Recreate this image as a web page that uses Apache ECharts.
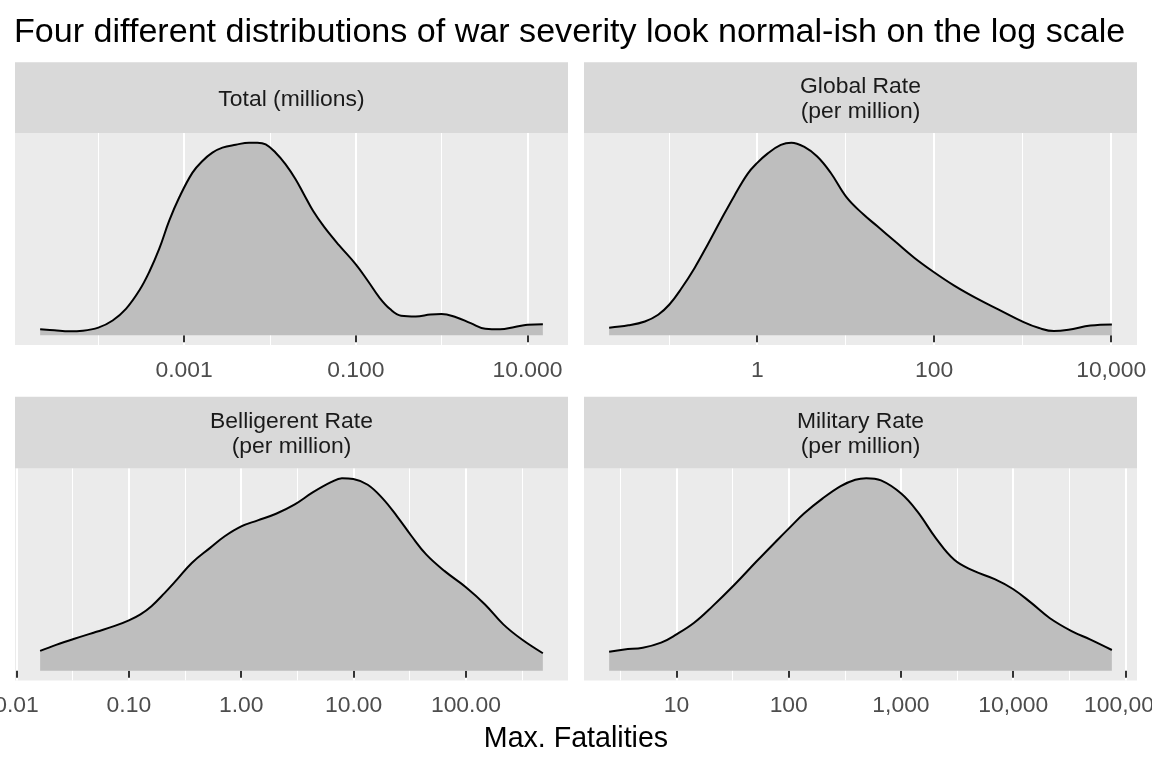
<!DOCTYPE html>
<html>
<head>
<meta charset="utf-8">
<title>War severity densities</title>
<script src="https://cdn.jsdelivr.net/npm/echarts@6/dist/echarts.min.js"></script>
<style>
  html, body { margin: 0; padding: 0; background: #fff; }
  #chart { width: 1152px; height: 768px; }
</style>
</head>
<body>
<div id="chart"></div>
<script>
// x values are log10 of the fatality measure, y is density relative to the panel peak
var totalX = [-4.678, -4.512, -4.337, -4.182, -4.0, -3.833, -3.678, -3.523, -3.407, -3.291, -3.174, -3.058, -2.903, -2.787, -2.671, -2.554, -2.399, -2.244, -2.147, -2.050, -1.934, -1.818, -1.702, -1.604, -1.497, -1.369, -1.199, -0.998, -0.857, -0.729, -0.601, -0.473, -0.302, -0.131, -0.003, 0.168, 0.338, 0.509, 0.680, 0.851, 1.0, 1.179];
var totalY = [0.031, 0.026, 0.021, 0.024, 0.040, 0.077, 0.137, 0.232, 0.328, 0.447, 0.593, 0.713, 0.842, 0.902, 0.945, 0.971, 0.986, 0.997, 0.997, 0.988, 0.945, 0.885, 0.808, 0.729, 0.643, 0.561, 0.468, 0.366, 0.280, 0.198, 0.136, 0.102, 0.098, 0.108, 0.111, 0.094, 0.063, 0.034, 0.031, 0.043, 0.055, 0.057];

var globalX = [-1.674, -1.457, -1.270, -1.120, -0.993, -0.858, -0.708, -0.558, -0.408, -0.258, -0.109, 0, 0.116, 0.266, 0.386, 0.528, 0.678, 0.828, 1.015, 1.202, 1.358, 1.566, 1.774, 1.994, 2.231, 2.480, 2.729, 3.011, 3.186, 3.352, 3.518, 3.767, 4.008];
var globalY = [0.040, 0.052, 0.072, 0.107, 0.160, 0.243, 0.350, 0.473, 0.601, 0.725, 0.838, 0.895, 0.943, 0.988, 1.0, 0.979, 0.928, 0.845, 0.713, 0.627, 0.566, 0.484, 0.403, 0.329, 0.257, 0.192, 0.134, 0.069, 0.038, 0.022, 0.029, 0.051, 0.057];

var bellX = [-1.79, -1.648, -1.485, -1.289, -1.126, -1.0, -0.897, -0.799, -0.685, -0.571, -0.440, -0.277, -0.147, 0.0, 0.147, 0.310, 0.473, 0.636, 0.799, 0.897, 0.998, 1.126, 1.256, 1.387, 1.517, 1.648, 1.811, 2.0, 2.170, 2.333, 2.496, 2.685];
var bellY = [0.103, 0.134, 0.166, 0.202, 0.232, 0.261, 0.292, 0.334, 0.400, 0.472, 0.557, 0.635, 0.695, 0.746, 0.777, 0.811, 0.858, 0.921, 0.974, 0.995, 0.991, 0.961, 0.892, 0.798, 0.695, 0.600, 0.515, 0.432, 0.343, 0.240, 0.163, 0.091];

var milX = [0.400, 0.536, 0.700, 0.863, 1.0, 1.157, 1.320, 1.516, 1.712, 1.908, 2.002, 2.136, 2.300, 2.463, 2.593, 2.691, 2.822, 3.002, 3.149, 3.312, 3.475, 3.639, 3.835, 3.998, 4.161, 4.324, 4.520, 4.684, 4.879];
var milY = [0.099, 0.111, 0.120, 0.146, 0.189, 0.249, 0.334, 0.446, 0.566, 0.683, 0.738, 0.815, 0.892, 0.957, 0.990, 0.998, 0.986, 0.918, 0.823, 0.686, 0.575, 0.520, 0.475, 0.424, 0.352, 0.274, 0.206, 0.163, 0.108];

// axis breaks (log10) and their labels
var totalBreaks = [-3, -1, 1];
var totalLabels = ['0.001', '0.100', '10.000'];
var totalMinor = [-4, -2, 0];
var globalBreaks = [0, 2, 4];
var globalLabels = ['1', '100', '10,000'];
var globalMinor = [-1, 1, 3];
var bellBreaks = [-2, -1, 0, 1, 2];
var bellLabels = ['0.01', '0.10', '1.00', '10.00', '100.00'];
var bellMinor = [-1.5, -0.5, 0.5, 1.5, 2.5];
var milBreaks = [1, 2, 3, 4, 5];
var milLabels = ['10', '100', '1,000', '10,000', '100,000'];
var milMinor = [0.5, 1.5, 2.5, 3.5, 4.5];

var panelTitles = ['Total (millions)', 'Global Rate\n(per million)', 'Belligerent Rate\n(per million)', 'Military Rate\n(per million)'];

var font = '"Liberation Sans", Arial, sans-serif';

var panels = [
  { x: totalX, y: totalY, breaks: totalBreaks, labels: totalLabels, minor: totalMinor },
  { x: globalX, y: globalY, breaks: globalBreaks, labels: globalLabels, minor: globalMinor },
  { x: bellX, y: bellY, breaks: bellBreaks, labels: bellLabels, minor: bellMinor },
  { x: milX, y: milY, breaks: milBreaks, labels: milLabels, minor: milMinor }
];

var boxes = [
  { left: 15, top: 133, width: 553, height: 212, stripTop: 62.3 },
  { left: 584, top: 133, width: 553, height: 212, stripTop: 62.3 },
  { left: 15, top: 468.5, width: 553, height: 212, stripTop: 396.8 },
  { left: 584, top: 468.5, width: 553, height: 212, stripTop: 396.8 }
];

var grids = [], xAxes = [], yAxes = [], series = [], graphics = [];

panels.forEach(function (p, i) {
  var b = boxes[i];
  var lo = Math.min.apply(null, p.x), hi = Math.max.apply(null, p.x);
  var pad = (hi - lo) * 0.05;
  var ymax = Math.max.apply(null, p.y);

  grids.push({
    left: b.left, top: b.top, width: b.width, height: b.height,
    show: true, backgroundColor: '#EBEBEB', borderWidth: 0,
    containLabel: false, outerBoundsMode: 'none'
  });

  // major breaks with labels
  xAxes.push({
    type: 'value', gridIndex: i, min: lo - pad, max: hi + pad,
    axisLine: { show: false },
    axisTick: { show: true, length: 7, customValues: p.breaks, lineStyle: { color: '#333333', width: 2 } },
    axisLabel: {
      show: true, customValues: p.breaks, margin: 14,
      color: '#4D4D4D', fontSize: 22.9, fontFamily: font,
      showMinLabel: true, showMaxLabel: true,
      formatter: function (v) {
        var k = p.breaks.findIndex(function (e) { return Math.abs(e - v) < 1e-6; });
        return k >= 0 ? p.labels[k] : '';
      }
    },
    splitLine: { show: true, lineStyle: { color: '#FFFFFF', width: 2.1 } }
  });
  // minor grid lines
  xAxes.push({
    type: 'value', gridIndex: i, min: lo - pad, max: hi + pad,
    axisLine: { show: false },
    axisTick: { show: false, customValues: p.minor },
    axisLabel: { show: false },
    splitLine: { show: true, lineStyle: { color: '#FFFFFF', width: 1.1 } }
  });

  yAxes.push({
    type: 'value', gridIndex: i, min: -0.05 * ymax, max: 1.05 * ymax,
    show: false, splitLine: { show: false }
  });

  series.push({
    type: 'line', xAxisIndex: i * 2, yAxisIndex: i,
    data: p.x.map(function (x, k) { return [x, p.y[k]]; }),
    smooth: 0.4, symbol: 'none', silent: true,
    lineStyle: { color: '#000000', width: 2 },
    areaStyle: { color: '#BEBEBE', opacity: 1, origin: 'auto' },
    z: 3
  });

  // facet strip
  graphics.push({
    type: 'rect',
    shape: { x: b.left, y: b.stripTop, width: b.width, height: b.top - b.stripTop },
    style: { fill: '#D9D9D9' }, silent: true
  });
  graphics.push({
    type: 'text',
    x: b.left + b.width / 2, y: (b.stripTop + b.top) / 2 + 2,
    style: {
      text: panelTitles[i], align: 'center', verticalAlign: 'middle',
      fill: '#1A1A1A', fontSize: 22.9, fontFamily: font, lineHeight: 25
    },
    silent: true
  });
});

graphics.push({
  type: 'text', x: 576, y: 739,
  style: {
    text: 'Max. Fatalities', align: 'center', verticalAlign: 'middle',
    fill: '#000000', fontSize: 28.6, fontFamily: font
  },
  silent: true
});

var chart = echarts.init(document.getElementById('chart'), null, { renderer: 'canvas' });
chart.setOption({
  backgroundColor: '#FFFFFF',
  animation: false,
  title: {
    text: 'Four different distributions of war severity look normal-ish on the log scale',
    left: 14, top: 16, padding: 0,
    textStyle: { color: '#000000', fontSize: 34.1, fontWeight: 'normal', fontFamily: font }
  },
  grid: grids,
  xAxis: xAxes,
  yAxis: yAxes,
  series: series,
  graphic: graphics
});
</script>
</body>
</html>
